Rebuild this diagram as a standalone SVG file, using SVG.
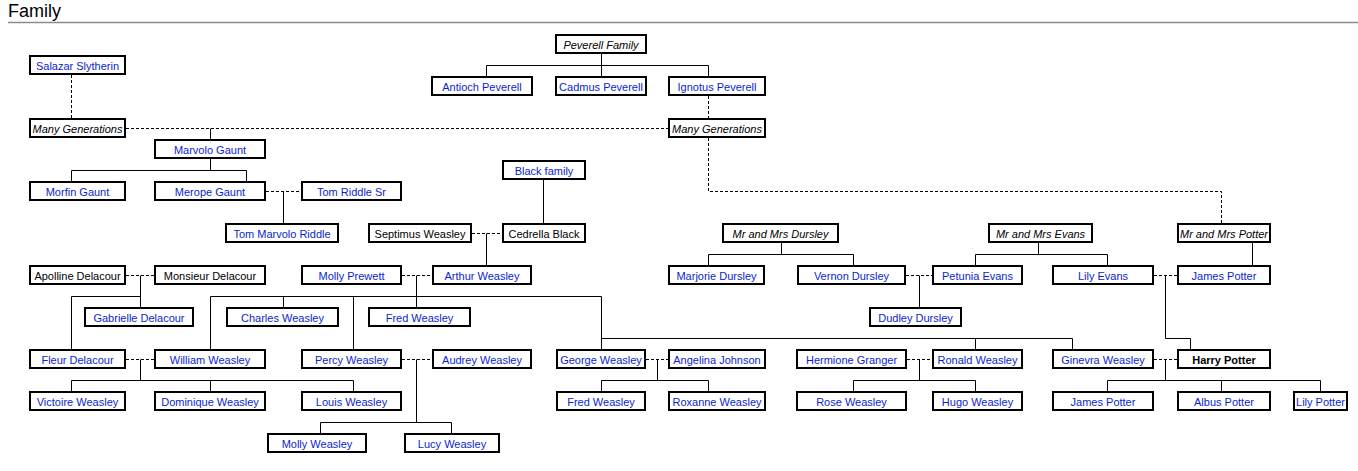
<svg xmlns="http://www.w3.org/2000/svg" width="1358" height="471" viewBox="0 0 1358 471">
<style>
.bg{fill:#ffffff}
.title{font-family:"Liberation Sans",Arial,sans-serif;font-size:18px;fill:#000}
.rule{stroke:#8c8c8c;stroke-width:1.5;fill:none}
.node rect{fill:#fff;stroke:#000;stroke-width:2}
.node text{font-family:"Liberation Sans",Arial,sans-serif;font-size:11px;text-anchor:middle;fill:#0a1ed2}
.node.plain text{fill:#000}
.node.ital text{fill:#000;font-style:italic}
.node.bold text{fill:#000;font-weight:bold}
.solid{stroke:#000;stroke-width:1;fill:none}
.dash{stroke:#000;stroke-width:1;fill:none;stroke-dasharray:3 2}
</style>
<rect class="bg" x="0" y="0" width="1358" height="471"/>
<text class="title" x="8" y="17">Family</text>
<path class="rule" d="M8,22.5H1358"/>

<g id="connectors">
<path class="solid" d="M601.5,54V76 M486.5,76V65.5H708.5V76"/>
<path class="solid" d="M210.5,128.5V139"/>
<path class="solid" d="M210.5,159V170.5 M71.5,181V170.5H246.5V181"/>
<path class="solid" d="M283.5,191.5V223"/>
<path class="solid" d="M543.5,180V223"/>
<path class="solid" d="M486.5,233.5V265"/>
<path class="solid" d="M140.5,275.5V307 M71.5,349V296.5H140.5"/>
<path class="solid" d="M416.5,275.5V307 M210.5,349V296.5H601.5V349 M283.5,296.5V307 M353.5,296.5V349 M601.5,338.5H1072.5V349 M975.5,338.5V349"/>
<path class="solid" d="M140.5,359.5V380.5 M71.5,391V380.5H353.5V391 M210.5,380.5V391"/>
<path class="solid" d="M416.5,359.5V422.5 M320.5,433V422.5H451.5V433"/>
<path class="solid" d="M657.5,359.5V380.5 M601.5,391V380.5H708.5V391"/>
<path class="solid" d="M919.5,359.5V380.5 M853.5,391V380.5H975.5V391"/>
<path class="solid" d="M781.5,243V254.5 M708.5,265V254.5H853.5V265"/>
<path class="solid" d="M1038.5,243V254.5 M975.5,265V254.5H1107.5V265"/>
<path class="solid" d="M919.5,275.5V307"/>
<path class="solid" d="M1252.5,243V265"/>
<path class="solid" d="M1165.5,275.5V338.5H1190.5V349"/>
<path class="solid" d="M1165.5,359.5V380.5 M1107.5,391V380.5H1320.5V391 M1221.5,380.5V391"/>

<path class="dash" d="M71.5,75V118"/>
<path class="dash" d="M126,128.5H668"/>
<path class="dash" d="M708.5,96V118"/>
<path class="dash" d="M708.5,138V191.5H1221.5V223"/>
<path class="dash" d="M266,191.5H301"/>
<path class="dash" d="M472,233.5H502"/>
<path class="dash" d="M126,275.5H154"/>
<path class="dash" d="M402,275.5H432"/>
<path class="dash" d="M906,275.5H932"/>
<path class="dash" d="M1154,275.5H1177"/>
<path class="dash" d="M126,359.5H154"/>
<path class="dash" d="M402,359.5H432"/>
<path class="dash" d="M646,359.5H668"/>
<path class="dash" d="M907,359.5H932"/>
<path class="dash" d="M1154,359.5H1177"/>
</g>

<g id="peverell-family" class="node ital"><rect x="556" y="35" width="90" height="18"/><text x="601" y="49">Peverell Family</text></g>
<g id="salazar-slytherin" class="node"><rect x="30" y="56" width="95" height="18"/><text x="77.5" y="70">Salazar Slytherin</text></g>
<g id="antioch-peverell" class="node"><rect x="432" y="77" width="100" height="18"/><text x="482" y="91">Antioch Peverell</text></g>
<g id="cadmus-peverell" class="node"><rect x="556" y="77" width="90" height="18"/><text x="601" y="91">Cadmus Peverell</text></g>
<g id="ignotus-peverell" class="node"><rect x="669" y="77" width="96" height="18"/><text x="717" y="91">Ignotus Peverell</text></g>
<g id="many-generations-left" class="node ital"><rect x="30" y="119" width="95" height="18"/><text x="77.5" y="133">Many Generations</text></g>
<g id="many-generations-right" class="node ital"><rect x="669" y="119" width="96" height="18"/><text x="717" y="133">Many Generations</text></g>
<g id="marvolo-gaunt" class="node"><rect x="155" y="140" width="110" height="18"/><text x="210" y="154">Marvolo Gaunt</text></g>
<g id="black-family" class="node"><rect x="503" y="161" width="82" height="18"/><text x="544" y="175">Black family</text></g>
<g id="morfin-gaunt" class="node"><rect x="30" y="182" width="95" height="18"/><text x="77.5" y="196">Morfin Gaunt</text></g>
<g id="merope-gaunt" class="node"><rect x="155" y="182" width="110" height="18"/><text x="210" y="196">Merope Gaunt</text></g>
<g id="tom-riddle-sr" class="node"><rect x="302" y="182" width="99" height="18"/><text x="351.5" y="196">Tom Riddle Sr</text></g>
<g id="tom-marvolo-riddle" class="node"><rect x="226" y="224" width="112" height="18"/><text x="282" y="238">Tom Marvolo Riddle</text></g>
<g id="septimus-weasley" class="node plain"><rect x="369" y="224" width="102" height="18"/><text x="420" y="238">Septimus Weasley</text></g>
<g id="cedrella-black" class="node plain"><rect x="503" y="224" width="82" height="18"/><text x="544" y="238">Cedrella Black</text></g>
<g id="mr-mrs-dursley" class="node ital"><rect x="723" y="224" width="115" height="18"/><text x="780.5" y="238">Mr and Mrs Dursley</text></g>
<g id="mr-mrs-evans" class="node ital"><rect x="989" y="224" width="103" height="18"/><text x="1040.5" y="238">Mr and Mrs Evans</text></g>
<g id="mr-mrs-potter" class="node ital"><rect x="1178" y="224" width="92" height="18"/><text x="1224" y="238">Mr and Mrs Potter</text></g>
<g id="apolline-delacour" class="node plain"><rect x="30" y="266" width="95" height="18"/><text x="77.5" y="280">Apolline Delacour</text></g>
<g id="monsieur-delacour" class="node plain"><rect x="155" y="266" width="110" height="18"/><text x="210" y="280">Monsieur Delacour</text></g>
<g id="molly-prewett" class="node"><rect x="302" y="266" width="99" height="18"/><text x="351.5" y="280">Molly Prewett</text></g>
<g id="arthur-weasley" class="node"><rect x="433" y="266" width="98" height="18"/><text x="482" y="280">Arthur Weasley</text></g>
<g id="marjorie-dursley" class="node"><rect x="669" y="266" width="95" height="18"/><text x="716.5" y="280">Marjorie Dursley</text></g>
<g id="vernon-dursley" class="node"><rect x="798" y="266" width="107" height="18"/><text x="851.5" y="280">Vernon Dursley</text></g>
<g id="petunia-evans" class="node"><rect x="933" y="266" width="89" height="18"/><text x="977.5" y="280">Petunia Evans</text></g>
<g id="lily-evans" class="node"><rect x="1053" y="266" width="100" height="18"/><text x="1103" y="280">Lily Evans</text></g>
<g id="james-potter-sr" class="node"><rect x="1178" y="266" width="92" height="18"/><text x="1224" y="280">James Potter</text></g>
<g id="gabrielle-delacour" class="node"><rect x="85" y="308" width="108" height="18"/><text x="139" y="322">Gabrielle Delacour</text></g>
<g id="charles-weasley" class="node"><rect x="227" y="308" width="111" height="18"/><text x="282.5" y="322">Charles Weasley</text></g>
<g id="fred-weasley-1" class="node"><rect x="369" y="308" width="101" height="18"/><text x="419.5" y="322">Fred Weasley</text></g>
<g id="dudley-dursley" class="node"><rect x="870" y="308" width="91" height="18"/><text x="915.5" y="322">Dudley Dursley</text></g>
<g id="fleur-delacour" class="node"><rect x="30" y="350" width="95" height="18"/><text x="77.5" y="364">Fleur Delacour</text></g>
<g id="william-weasley" class="node"><rect x="155" y="350" width="110" height="18"/><text x="210" y="364">William Weasley</text></g>
<g id="percy-weasley" class="node"><rect x="302" y="350" width="99" height="18"/><text x="351.5" y="364">Percy Weasley</text></g>
<g id="audrey-weasley" class="node"><rect x="433" y="350" width="98" height="18"/><text x="482" y="364">Audrey Weasley</text></g>
<g id="george-weasley" class="node"><rect x="557" y="350" width="88" height="18"/><text x="601" y="364">George Weasley</text></g>
<g id="angelina-johnson" class="node"><rect x="669" y="350" width="96" height="18"/><text x="717" y="364">Angelina Johnson</text></g>
<g id="hermione-granger" class="node"><rect x="797" y="350" width="109" height="18"/><text x="851.5" y="364">Hermione Granger</text></g>
<g id="ronald-weasley" class="node"><rect x="933" y="350" width="89" height="18"/><text x="977.5" y="364">Ronald Weasley</text></g>
<g id="ginevra-weasley" class="node"><rect x="1053" y="350" width="100" height="18"/><text x="1103" y="364">Ginevra Weasley</text></g>
<g id="harry-potter" class="node bold"><rect x="1178" y="350" width="92" height="18"/><text x="1224" y="364">Harry Potter</text></g>
<g id="victoire-weasley" class="node"><rect x="30" y="392" width="95" height="18"/><text x="77.5" y="406">Victoire Weasley</text></g>
<g id="dominique-weasley" class="node"><rect x="155" y="392" width="110" height="18"/><text x="210" y="406">Dominique Weasley</text></g>
<g id="louis-weasley" class="node"><rect x="302" y="392" width="99" height="18"/><text x="351.5" y="406">Louis Weasley</text></g>
<g id="fred-weasley-2" class="node"><rect x="557" y="392" width="88" height="18"/><text x="601" y="406">Fred Weasley</text></g>
<g id="roxanne-weasley" class="node"><rect x="669" y="392" width="96" height="18"/><text x="717" y="406">Roxanne Weasley</text></g>
<g id="rose-weasley" class="node"><rect x="797" y="392" width="109" height="18"/><text x="851.5" y="406">Rose Weasley</text></g>
<g id="hugo-weasley" class="node"><rect x="933" y="392" width="89" height="18"/><text x="977.5" y="406">Hugo Weasley</text></g>
<g id="james-potter-jr" class="node"><rect x="1053" y="392" width="100" height="18"/><text x="1103" y="406">James Potter</text></g>
<g id="albus-potter" class="node"><rect x="1178" y="392" width="92" height="18"/><text x="1224" y="406">Albus Potter</text></g>
<g id="lily-potter" class="node"><rect x="1294" y="392" width="53" height="18"/><text x="1320.5" y="406">Lily Potter</text></g>
<g id="molly-weasley" class="node"><rect x="268" y="434" width="98" height="18"/><text x="317" y="448">Molly Weasley</text></g>
<g id="lucy-weasley" class="node"><rect x="405" y="434" width="94" height="18"/><text x="452" y="448">Lucy Weasley</text></g>
</svg>
